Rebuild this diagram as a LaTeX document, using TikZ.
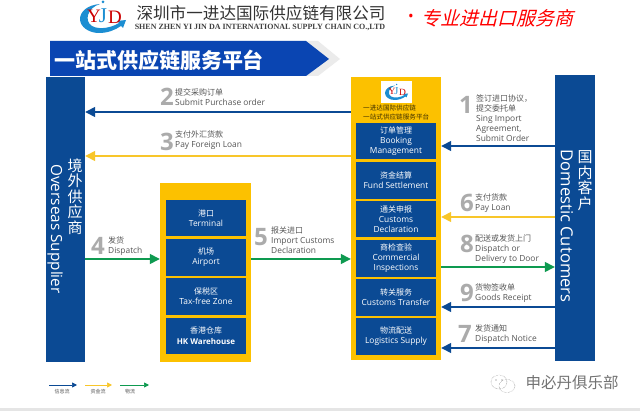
\documentclass[tikz,border=0pt]{standalone}
\usepackage{fontspec}
\setmainfont{Open Sans}
\newfontfamily\cjk{Noto Sans CJK SC}
\newfontfamily\cjkslant[FakeSlant=0.25]{Noto Sans CJK SC}
\newfontfamily\serifen{Liberation Serif}
\usetikzlibrary{arrows.meta}
\definecolor{navy}{HTML}{0B4A94}
\definecolor{gold}{HTML}{FCC100}
\definecolor{arrgold}{HTML}{F8C62A}
\definecolor{leaf}{HTML}{0E9A50}
\definecolor{royal}{HTML}{0A45B2}
\definecolor{numgrey}{HTML}{ABABAB}
\definecolor{txtgrey}{HTML}{555555}
\definecolor{swoosh}{HTML}{1C8ED2}
\newcommand{\zz}[1]{{\cjk\fontsize{8}{10}\selectfont #1}}
\tikzset{
  panel/.style={fill=navy,draw=none,inner sep=0pt},
  frame/.style={fill=gold,draw=none,inner sep=0pt},
  cell/.style={fill=navy,text=white,inner sep=0pt,minimum width=80pt,align=center,font=\fontsize{8.4}{10}\selectfont},
  numeral/.style={text=numgrey,inner sep=0pt,font=\fontsize{24}{24}\selectfont\bfseries},
  lbl/.style={text=txtgrey,inner sep=0pt,anchor=west,align=left,font=\fontsize{8.4}{10}\selectfont},
  flowblue/.style={draw=navy,line width=1.4pt,-{Triangle[length=10pt,width=10pt]}},
  flowgold/.style={draw=arrgold,line width=1.4pt,-{Triangle[length=10pt,width=10pt]}},
  flowgreen/.style={draw=leaf,line width=1.4pt,-{Triangle[length=10pt,width=10pt]}},
  legblue/.style={draw=navy,line width=.7pt,-{Triangle[length=5pt,width=5pt]}},
  leggold/.style={draw=arrgold,line width=.7pt,-{Triangle[length=5pt,width=5pt]}},
  leggreen/.style={draw=leaf,line width=.7pt,-{Triangle[length=5pt,width=5pt]}},
  legtxt/.style={text=txtgrey,inner sep=0pt,font=\fontsize{5}{5}\selectfont\cjk},
  yjdlogo/.pic={
    \fill[swoosh] (-3,-14) .. controls (-16,-13) and (-23,-6) .. (-23,1)
      .. controls (-23,9) and (-14,15) .. (-4,15)
      .. controls (5,15) and (12,12) .. (18,8) -- (20,10) -- (23,2) -- (14,3) -- (16,5)
      .. controls (8,10) and (-4,12) .. (-11,8)
      .. controls (-19,3) and (-16,-10) .. (-3,-14) -- cycle;
    \node[text=red!80!black,inner sep=0pt,font=\fontsize{19}{19}\selectfont\serifen,transform shape] at (-9,-2) {Y};
    \node[text=swoosh,inner sep=0pt,font=\fontsize{21}{21}\selectfont\serifen,transform shape] at (0,-2) {J};
    \node[text=red!80!black,inner sep=0pt,font=\fontsize{19}{19}\selectfont\serifen,transform shape] at (12,-1) {D};
    \fill[swoosh] (0,-16) circle (1.5);
  }
}
\begin{document}
\begin{tikzpicture}[x=1pt,y=-1pt]
\useasboundingbox (0,0) rectangle (640,411);
\fill[white] (0,0) rectangle (640,411);
\fill[black!10] (0,408.5) rectangle (640,411);

% header
\pic at (103,18) {yjdlogo};
\node[inner sep=0pt,text=black!80,font=\fontsize{16.6}{17}\selectfont\cjk] (ttl) at (261,13) {深圳市一进达国际供应链有限公司};
\node[inner sep=0pt,text=black!75,font=\fontsize{8}{8}\selectfont\serifen\bfseries] (ttlen) at (260,27) {SHEN ZHEN YI JIN DA INTERNATIONAL SUPPLY CHAIN CO.,LTD};
\node[inner sep=0pt,text=red,font=\fontsize{15}{15}\selectfont] (dot) at (411,18) {•};
\node[inner sep=0pt,text=red,font=\fontsize{19}{19}\selectfont\cjkslant] (slogan) at (497.5,18) {专业进出口服务商};

% banner
\fill[black!8] (60,41) -- (318,41) -- (340,59) -- (318,76) -- (60,76) -- cycle;
\fill[royal] (50,41) -- (306,41) -- (329,59) -- (306,76) -- (50,76) -- cycle;
\node[inner sep=0pt,text=white,font=\fontsize{21}{21}\selectfont\cjk\bfseries] (bannertxt) at (159,60) {一站式供应链服务平台};

% side panels
\node[panel,minimum width=39pt,minimum height=285pt] (sup) at (65.5,219.5) {};
\node[panel,minimum width=40pt,minimum height=286pt] (cust) at (575,218) {};
\node[inner sep=0pt,text=white,align=center,font=\fontsize{15}{15.5}\selectfont\cjk] (supzh) at (75,196.5) {境\\外\\供\\应\\商};
\node[inner sep=0pt,text=white,rotate=-90,font=\fontsize{15.3}{16}\selectfont] (supen) at (55,229) {Overseas Supplier};
\node[inner sep=0pt,text=white,align=center,font=\fontsize{15}{15.5}\selectfont\cjk] (custzh) at (585,180.5) {国\\内\\客\\户};
\node[inner sep=0pt,text=white,rotate=-90,font=\fontsize{16.6}{16}\selectfont] (custen) at (567,226) {Domestic Cutomers};

% middle frame
\node[frame,minimum width=91pt,minimum height=179pt] (mid) at (205.5,272.5) {};
\node[cell,minimum height=36pt] (c1) at (206,218) {\zz{港口}\\Terminal};
\node[cell,minimum height=37pt] (c2) at (206,257.5) {\zz{机场}\\Airport};
\node[cell,minimum height=37pt] (c3) at (206,296.5) {\zz{保税区}\\Tax-free Zone};
\node[cell,minimum height=36pt,font=\fontsize{8}{11}\selectfont] (c4) at (206,336) {\zz{香港仓库}\\\textbf{HK Warehouse}};

% right frame
\node[frame,minimum width=90pt,minimum height=283pt] (plat) at (396,218.5) {};
\node[fill=white,inner sep=0pt,minimum width=31pt,minimum height=22pt] (logobox) at (396.5,92) {};
\pic[scale=.5,transform shape] at (396.5,92.5) {yjdlogo};
\node[inner sep=0pt,anchor=west,text=black!75!gold,font=\fontsize{6.6}{7}\selectfont\cjk] (plat1) at (363,108) {一进达国际供应链};
\node[inner sep=0pt,anchor=west,text=black!75!gold,font=\fontsize{6.6}{7}\selectfont\cjk] (plat2) at (363,117) {一站式供应链服务平台};
\node[cell,minimum height=36pt] (r1) at (396,141) {\zz{订单管理}\\Booking\\Management};
\node[cell,minimum height=37pt] (r2) at (396,180.5) {\zz{资金结算}\\Fund Settlement};
\node[cell,minimum height=36pt] (r3) at (396,219) {\zz{通关申报}\\Customs\\Declaration};
\node[cell,minimum height=37pt] (r4) at (396,258.5) {\zz{商检查验}\\Commercial\\Inspections};
\node[cell,minimum height=37pt] (r5) at (396,297.5) {\zz{转关服务}\\Customs Transfer};
\node[cell,minimum height=37pt] (r6) at (396,336.5) {\zz{物流配送}\\Logistics Supply};

% flow levels
\coordinate (y1) at (0,146);
\coordinate (y2) at (0,112);
\coordinate (y3) at (0,156);
\coordinate (y4) at (0,259);
\coordinate (y6) at (0,217);
\coordinate (y8) at (0,267);
\coordinate (y9) at (0,307);
\coordinate (y7) at (0,348);

\draw[flowblue] (y1 -| cust.west) -- (y1 -| plat.east);
\draw[flowblue] (y2 -| plat.west) -- (y2 -| sup.east);
\draw[flowgold] (y3 -| plat.west) -- (y3 -| sup.east);
\draw[flowgreen] (y4 -| sup.east) -- (y4 -| mid.west);
\draw[flowgreen] (y4 -| mid.east) -- (y4 -| plat.west);
\draw[flowgold] (y6 -| cust.west) -- (y6 -| plat.east);
\draw[flowgreen] (y8 -| plat.east) -- (y8 -| cust.west);
\draw[flowblue] (y9 -| cust.west) -- (y9 -| plat.east);
\draw[flowblue] (y7 -| cust.west) -- (y7 -| plat.east);

% labels
\node[numeral] (n1) at (466,105) {1};
\node[lbl] (l1) at (476,118) {\zz{签订进口协议，}\\\zz{提交委托单}\\Sing Import\\Agreement,\\Submit Order};
\node[numeral] (n2) at (167,97) {2};
\node[lbl] (l2) at (175,97) {\zz{提交采购订单}\\Submit Purchase order};
\node[numeral] (n3) at (167,142) {3};
\node[lbl] (l3) at (175,140) {\zz{支付外汇货款}\\Pay Foreign Loan};
\node[numeral] (n4) at (98,246) {4};
\node[lbl] (l4) at (108,246) {\zz{发货}\\Dispatch};
\node[numeral] (n5) at (261,237) {5};
\node[lbl] (l5) at (271,240.5) {\zz{报关进口}\\Import Customs\\Declaration};
\node[numeral] (n6) at (467,203) {6};
\node[lbl] (l6) at (475,203) {\zz{支付货款}\\Pay Loan};
\node[numeral] (n8) at (467,244) {8};
\node[lbl] (l8) at (475,249) {\zz{配送或发货上门}\\Dispatch or\\Delivery to Door};
\node[numeral] (n9) at (467,293) {9};
\node[lbl] (l9) at (475,293) {\zz{货物签收单}\\Goods Receipt};
\node[numeral] (n7) at (465,334) {7};
\node[lbl] (l7) at (475,334) {\zz{发货通知}\\Dispatch Notice};

% legend
\coordinate (la) at (49,385); \coordinate (lb) at (77,385);
\coordinate (lc) at (85,385); \coordinate (ld) at (112,385);
\coordinate (le) at (120,385); \coordinate (lf) at (149,385);
\draw[legblue] (la) -- (lb);
\draw[leggold] (lc) -- (ld);
\draw[leggreen] (le) -- (lf);
\node[legtxt] (t1) at (62,392) {信息流};
\node[legtxt] (t2) at (98,392) {资金流};
\node[legtxt] (t3) at (130,392) {物流};

% watermark
\draw[black!60,line width=.4pt,densely dotted] (499,382) ellipse (8 and 7);
\draw[black!60,line width=.4pt,densely dotted] (507,386) ellipse (8 and 6.5);
\fill[black!60] (496,380) circle (.6) (502,380) circle (.6);
\node[inner sep=0pt,text=black!55,font=\fontsize{15.5}{16}\selectfont\cjk] (wm) at (572,383) {申必丹俱乐部};
\end{tikzpicture}
\end{document}
